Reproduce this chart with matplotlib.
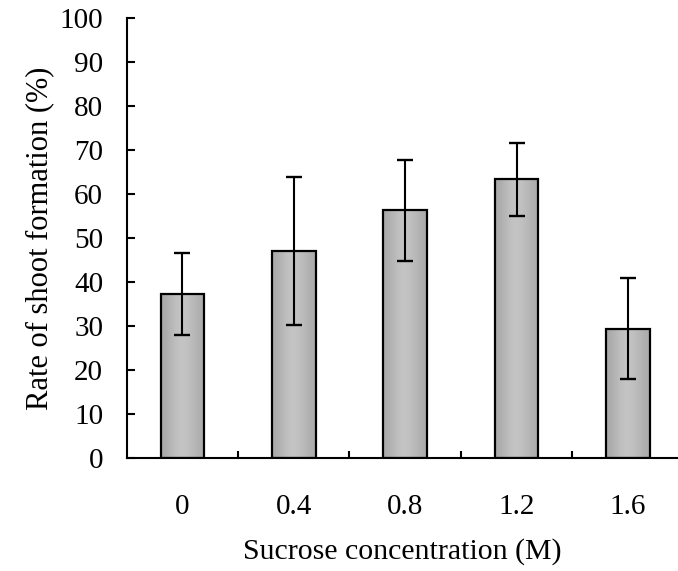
import matplotlib
matplotlib.use("Agg")
import matplotlib.pyplot as plt
import numpy as np

# data
concentrations = ["0", "0.4", "0.8", "1.2", "1.6"]
shoot_rate = [37.3, 47.0, 56.3, 63.4, 29.4]
shoot_err = [9.4, 16.8, 11.4, 8.3, 11.5]

plt.rcParams['font.family'] = ['Liberation Serif', 'DejaVu Serif']

fig = plt.figure(figsize=(6.78, 5.71), dpi=100)
ax = fig.add_axes([0.187, 0.198, 0.813, 0.770])

x = np.arange(len(concentrations))
bars = ax.bar(x, shoot_rate, width=0.39, color='none', edgecolor='black',
              linewidth=1.6, zorder=3)

# grey shading, a bit lighter in the middle of each bar
grad = np.array([[0.66, 0.72, 0.77, 0.76, 0.72, 0.67]])
for b in bars:
    x0, y0 = b.get_x(), b.get_y()
    im = ax.imshow(grad, cmap='gray', vmin=0, vmax=1, aspect='auto',
                   extent=(x0, x0 + b.get_width(), y0, y0 + b.get_height()),
                   interpolation='bicubic', zorder=2)
    im.set_clip_path(b)

ax.errorbar(x, shoot_rate, yerr=shoot_err, fmt='none', ecolor='black',
            elinewidth=1.5, capsize=5.5, capthick=1.7, zorder=4)

ax.set_xlim(-0.5, 4.45)
ax.set_ylim(0, 100)
ax.set_yticks(np.arange(0, 101, 10))
ax.set_xticks(x)
ax.set_xticklabels(concentrations)
ax.set_xticks(np.arange(0.5, 4.5, 1.0), minor=True)

for side in ['top', 'right']:
    ax.spines[side].set_visible(False)
for side in ['left', 'bottom']:
    ax.spines[side].set_linewidth(1.5)

ax.tick_params(axis='y', direction='in', length=6, width=1.5, pad=17, labelsize=21)
ax.tick_params(axis='x', which='major', length=0, pad=26, labelsize=21)
ax.tick_params(axis='x', which='minor', direction='in', length=5, width=1.5)

ax.set_ylabel('Rate of shoot formation (%)', fontsize=22, labelpad=4)
ax.set_xlabel('Sucrose concentration (M)', fontsize=21.5, labelpad=13)

fig.savefig('out.png', dpi=100)
